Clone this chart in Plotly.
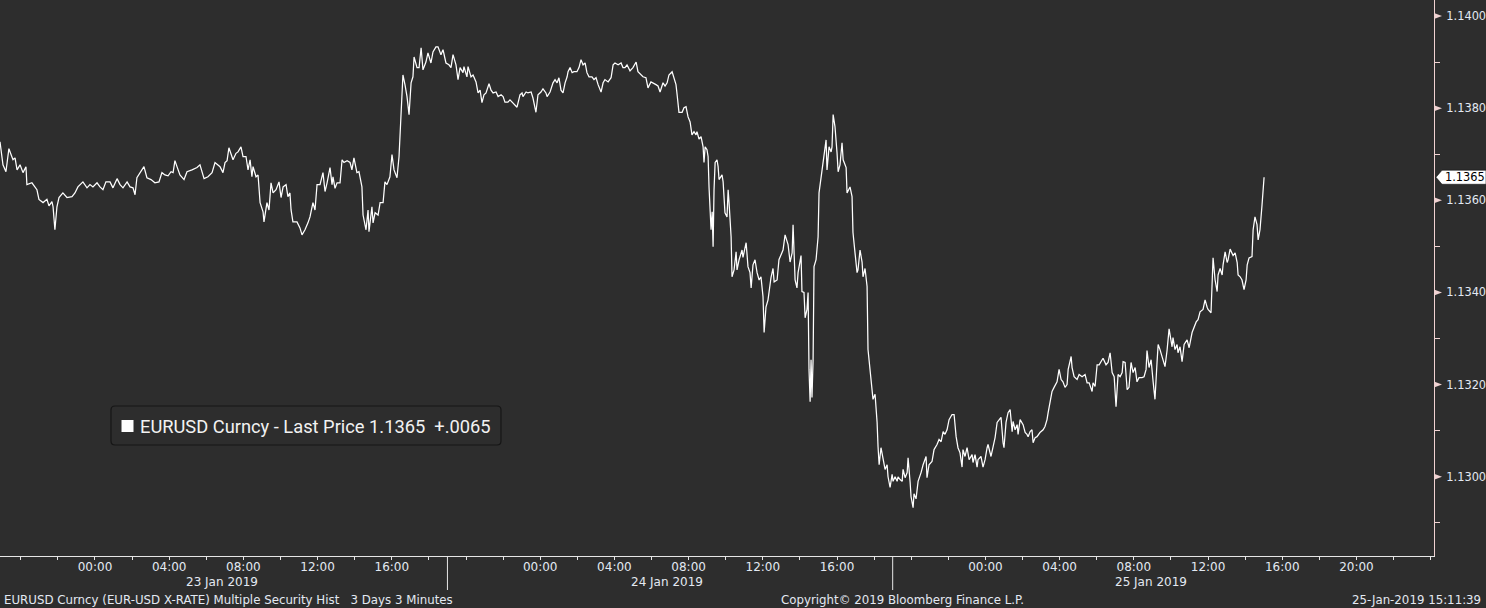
import pandas as pd
import plotly.graph_objects as go

# ---------------- data ----------------
# time = hours since 23 Jan 2019 00:00 (New York), value = EURUSD last price
hours_a = [-5.12, -4.96, -4.80, -4.64, -4.42, -4.31, -4.20, -4.04, -3.88, -3.72, -3.67, -3.40, -3.13, -3.02, -2.80,
           -2.59, -2.48, -2.32, -2.26, -2.16, -2.05, -1.94, -1.73, -1.51, -1.24, -1.08, -0.92, -0.65, -0.43, -0.27,
           -0.11, 0.11, 0.27, 0.43, 0.59, 0.81, 0.97, 1.19, 1.35, 1.51, 1.73, 1.89, 2.05, 2.16, 2.26, 2.43, 2.64,
           2.80, 3.02, 3.23, 3.45, 3.61, 3.77, 3.94, 4.10, 4.21, 4.31, 4.42, 4.58, 4.80, 4.96, 5.23, 5.50, 5.66,
           5.88, 6.09, 6.31, 6.47, 6.63, 6.74]
price_a = [1.13727, 1.13677, 1.13662, 1.13712, 1.13688, 1.13692, 1.13666, 1.13677, 1.13660, 1.13673, 1.13634,
           1.13638, 1.13623, 1.13602, 1.13595, 1.13602, 1.13588, 1.13597, 1.13586, 1.13536, 1.13586, 1.13606,
           1.13616, 1.13606, 1.13608, 1.13616, 1.13629, 1.13640, 1.13627, 1.13634, 1.13629, 1.13638, 1.13629,
           1.13623, 1.13640, 1.13640, 1.13627, 1.13647, 1.13634, 1.13627, 1.13640, 1.13629, 1.13627, 1.13612,
           1.13649, 1.13660, 1.13673, 1.13649, 1.13645, 1.13638, 1.13640, 1.13660, 1.13655, 1.13653, 1.13662,
           1.13660, 1.13686, 1.13673, 1.13655, 1.13645, 1.13662, 1.13666, 1.13671, 1.13677, 1.13647, 1.13651,
           1.13660, 1.13682, 1.13677, 1.13673]

hours_b = [6.90, 7.01, 7.12, 7.22, 7.44, 7.60, 7.71, 7.87, 7.98, 8.14, 8.25, 8.36, 8.46, 8.52, 8.68, 8.79, 8.90,
           9.06, 9.11, 9.27, 9.38, 9.49, 9.60, 9.76, 9.92, 10.03, 10.14, 10.30, 10.40, 10.51, 10.57, 10.67, 10.89,
           11.05, 11.16, 11.32, 11.48, 11.59, 11.75, 11.86, 11.97, 12.13, 12.29, 12.40, 12.51, 12.67, 12.78, 12.83,
           12.94, 13.05, 13.21, 13.32, 13.42, 13.59, 13.75, 13.85, 13.96, 14.12, 14.23, 14.39, 14.45, 14.61, 14.72,
           14.77, 14.93, 14.99, 15.10, 15.26, 15.37, 15.53, 15.63, 15.74, 15.90, 16.01, 16.12, 16.28, 16.39, 16.50,
           16.60, 16.71, 16.82, 16.93, 17.04, 17.14, 17.20, 17.36, 17.47, 17.58, 17.68, 17.84, 17.95, 18.11, 18.22,
           18.38, 18.49, 18.65, 18.76, 18.92, 19.08]
price_b = [1.13660, 1.13682, 1.13686, 1.13714, 1.13688, 1.13702, 1.13705, 1.13716, 1.13695, 1.13695, 1.13666,
           1.13688, 1.13651, 1.13673, 1.13651, 1.13655, 1.13595, 1.13575, 1.13553, 1.13595, 1.13579, 1.13638,
           1.13616, 1.13623, 1.13640, 1.13606, 1.13629, 1.13634, 1.13608, 1.13616, 1.13579, 1.13553, 1.13553,
           1.13540, 1.13525, 1.13536, 1.13551, 1.13564, 1.13595, 1.13579, 1.13634, 1.13634, 1.13660, 1.13619,
           1.13638, 1.13671, 1.13634, 1.13651, 1.13626, 1.13638, 1.13638, 1.13688, 1.13682, 1.13686, 1.13682,
           1.13666, 1.13692, 1.13660, 1.13662, 1.13629, 1.13568, 1.13536, 1.13579, 1.13532, 1.13586, 1.13551,
           1.13573, 1.13568, 1.13595, 1.13595, 1.13640, 1.13634, 1.13651, 1.13699, 1.13666, 1.13649, 1.13695,
           1.13790, 1.13872, 1.13851, 1.13825, 1.13786, 1.13855, 1.13868, 1.13911, 1.13888, 1.13888, 1.13931,
           1.13883, 1.13900, 1.13920, 1.13898, 1.13922, 1.13933, 1.13933, 1.13916, 1.13927, 1.13898, 1.13894]

hours_c = [19.19, 19.30, 19.46, 19.57, 19.68, 19.84, 19.89, 20.05, 20.11, 20.27, 20.38, 20.54, 20.65, 20.76, 20.86,
           20.97, 21.08, 21.24, 21.35, 21.46, 21.62, 21.73, 21.89, 22.00, 22.10, 22.26, 22.37, 22.53, 22.64, 22.75,
           22.91, 23.02, 23.07, 23.24, 23.34, 23.51, 23.61, 23.77, 23.88, 24.04, 24.15, 24.31, 24.37, 24.53, 24.69,
           24.80, 24.91, 25.01, 25.12, 25.23, 25.34, 25.45, 25.50, 25.61, 25.72, 25.82, 25.98, 26.09, 26.20, 26.31,
           26.42, 26.52, 26.63, 26.79, 26.90, 27.01, 27.12, 27.28, 27.39, 27.49, 27.66, 27.82, 27.93, 28.03, 28.20,
           28.36, 28.46, 28.57, 28.68, 28.84, 29.00, 29.17, 29.27, 29.44, 29.54, 29.70, 29.81, 29.97, 30.08, 30.24,
           30.35, 30.46, 30.62, 30.73, 30.84, 30.94, 31.11, 31.21, 31.32, 31.38, 31.48, 31.65, 31.75, 31.86, 31.97,
           32.08]
price_c = [1.13888, 1.13916, 1.13894, 1.13862, 1.13888, 1.13877, 1.13890, 1.13868, 1.13890, 1.13868, 1.13872,
           1.13857, 1.13833, 1.13839, 1.13812, 1.13829, 1.13833, 1.13853, 1.13839, 1.13833, 1.13835, 1.13825,
           1.13829, 1.13825, 1.13813, 1.13813, 1.13818, 1.13812, 1.13807, 1.13802, 1.13829, 1.13833, 1.13825,
           1.13835, 1.13833, 1.13835, 1.13822, 1.13791, 1.13829, 1.13835, 1.13842, 1.13833, 1.13825, 1.13835,
           1.13855, 1.13862, 1.13855, 1.13866, 1.13839, 1.13833, 1.13855, 1.13868, 1.13879, 1.13888, 1.13877,
           1.13879, 1.13879, 1.13888, 1.13905, 1.13894, 1.13898, 1.13877, 1.13868, 1.13868, 1.13862, 1.13866,
           1.13851, 1.13835, 1.13855, 1.13862, 1.13857, 1.13866, 1.13894, 1.13898, 1.13894, 1.13898, 1.13888,
           1.13888, 1.13894, 1.13881, 1.13888, 1.13900, 1.13879, 1.13872, 1.13868, 1.13866, 1.13844, 1.13857,
           1.13855, 1.13851, 1.13848, 1.13835, 1.13855, 1.13848, 1.13855, 1.13872, 1.13879, 1.13866, 1.13851,
           1.13829, 1.13791, 1.13791, 1.13801, 1.13803, 1.13781, 1.13770]

hours_d = [32.18, 32.29, 32.40, 32.45, 32.56, 32.67, 32.78, 32.83, 32.89, 32.99, 33.05, 33.10, 33.21, 33.27, 33.32,
           33.37, 33.43, 33.53, 33.59, 33.64, 33.80, 33.86, 33.96, 34.07, 34.13, 34.18, 34.29, 34.34, 34.45, 34.56,
           34.61, 34.72, 34.88, 34.93, 35.10, 35.20, 35.31, 35.37, 35.47, 35.58, 35.69, 35.80, 35.90, 36.01, 36.07,
           36.17, 36.28, 36.44, 36.55, 36.61, 36.77, 36.87, 36.98, 37.09, 37.20, 37.31, 37.36, 37.47, 37.58, 37.63,
           37.74, 37.84, 37.90, 38.06, 38.11, 38.22, 38.28, 38.38, 38.44, 38.49, 38.55, 38.60, 38.65, 38.71, 38.76,
           38.87, 38.98, 39.03, 39.14, 39.25, 39.30, 39.41, 39.46, 39.57, 39.68, 39.73, 39.79, 39.89, 40.00, 40.06,
           40.16, 40.27, 40.33, 40.49, 40.54, 40.70, 40.81, 40.86, 40.97, 41.08, 41.13, 41.24, 41.35, 41.40, 41.51,
           41.62, 41.67, 41.83, 41.94, 42.05, 42.16]
price_d = [1.13742, 1.13749, 1.13742, 1.13749, 1.13733, 1.13738, 1.13716, 1.13682, 1.13716, 1.13710, 1.13695,
           1.13629, 1.13536, 1.13575, 1.13499, 1.13623, 1.13682, 1.13688, 1.13673, 1.13645, 1.13655, 1.13640,
           1.13573, 1.13564, 1.13623, 1.13595, 1.13521, 1.13434, 1.13449, 1.13488, 1.13449, 1.13471, 1.13492,
           1.13476, 1.13508, 1.13456, 1.13443, 1.13410, 1.13460, 1.13471, 1.13443, 1.13427, 1.13434, 1.13391,
           1.13313, 1.13368, 1.13384, 1.13432, 1.13452, 1.13423, 1.13427, 1.13471, 1.13480, 1.13492, 1.13525,
           1.13508, 1.13504, 1.13466, 1.13486, 1.13547, 1.13427, 1.13410, 1.13443, 1.13480, 1.13402, 1.13400,
           1.13345, 1.13363, 1.13400, 1.13233, 1.13163, 1.13254, 1.13172, 1.13254, 1.13456, 1.13471, 1.13521,
           1.13616, 1.13651, 1.13682, 1.13703, 1.13731, 1.13666, 1.13716, 1.13705, 1.13716, 1.13786, 1.13760,
           1.13703, 1.13662, 1.13677, 1.13725, 1.13688, 1.13671, 1.13616, 1.13629, 1.13608, 1.13530, 1.13486,
           1.13443, 1.13449, 1.13492, 1.13466, 1.13434, 1.13452, 1.13413, 1.13276, 1.13217, 1.13168, 1.13179,
           1.13118]

hours_e = [42.21, 42.27, 42.37, 42.48, 42.59, 42.70, 42.75, 42.86, 42.97, 43.02, 43.13, 43.24, 43.29, 43.40, 43.51,
           43.56, 43.67, 43.78, 43.83, 43.94, 43.99, 44.10, 44.15, 44.26, 44.37, 44.53, 44.64, 44.80, 44.85, 44.96,
           45.12, 45.23, 45.39, 45.50, 45.61, 45.72, 45.82, 45.93, 46.04, 46.20, 46.31, 46.42, 46.52, 46.63, 46.74,
           46.79, 46.90, 47.01, 47.12, 47.28, 47.33, 47.44, 47.55, 47.60, 47.76, 47.87, 47.98, 48.09, 48.14, 48.30,
           48.41, 48.52, 48.63, 48.73, 48.84, 48.95, 49.00, 49.11, 49.22, 49.33, 49.44, 49.49, 49.60, 49.71, 49.76,
           49.87, 49.98, 50.03, 50.14, 50.24, 50.30, 50.41, 50.51, 50.57, 50.68, 50.78, 50.94, 51.11, 51.21, 51.32,
           51.38, 51.48, 51.59, 51.70, 51.86, 51.97]
price_e = [1.13066, 1.13026, 1.13063, 1.13037, 1.13016, 1.13026, 1.13000, 1.12977, 1.13005, 1.12990, 1.13000,
           1.12990, 1.13000, 1.12994, 1.12990, 1.13016, 1.12998, 1.13009, 1.13041, 1.12988, 1.12957, 1.12933,
           1.12963, 1.12952, 1.12990, 1.13009, 1.13026, 1.13044, 1.12998, 1.13026, 1.13033, 1.13059, 1.13070,
           1.13081, 1.13076, 1.13098, 1.13092, 1.13102, 1.13124, 1.13135, 1.13135, 1.13087, 1.13063, 1.13052,
           1.13021, 1.13059, 1.13044, 1.13063, 1.13037, 1.13048, 1.13031, 1.13048, 1.13021, 1.13037, 1.13044,
           1.13021, 1.13037, 1.13063, 1.13070, 1.13044, 1.13063, 1.13085, 1.13118, 1.13124, 1.13129, 1.13074,
           1.13063, 1.13118, 1.13139, 1.13146, 1.13098, 1.13120, 1.13102, 1.13113, 1.13092, 1.13124, 1.13118,
           1.13113, 1.13096, 1.13092, 1.13087, 1.13098, 1.13102, 1.13074, 1.13085, 1.13087, 1.13096, 1.13102,
           1.13109, 1.13124, 1.13139, 1.13161, 1.13185, 1.13194, 1.13206, 1.13233]

hours_f = [52.08, 52.18, 52.29, 52.40, 52.46, 52.62, 52.67, 52.78, 52.94, 53.05, 53.21, 53.37, 53.48, 53.59, 53.75,
           53.80, 53.91, 54.02, 54.13, 54.29, 54.34, 54.50, 54.61, 54.72, 54.83, 54.94, 55.04, 55.15, 55.26, 55.37,
           55.42, 55.53, 55.64, 55.74, 55.85, 55.96, 56.07, 56.17, 56.28, 56.44, 56.55, 56.66, 56.71, 56.82, 56.93,
           57.04, 57.14, 57.25, 57.31, 57.41, 57.58, 57.68, 57.79, 57.90, 58.06, 58.11, 58.22, 58.33, 58.38, 58.49,
           58.60, 58.71, 58.87, 58.98, 59.14, 59.25, 59.36, 59.46, 59.57, 59.73, 59.84, 59.95, 60.00, 60.16, 60.27,
           60.38, 60.49, 60.54, 60.65, 60.76, 60.81, 60.92, 61.03, 61.08, 61.19, 61.35, 61.46, 61.57, 61.62, 61.73,
           61.83, 61.94, 62.05, 62.11, 62.21, 62.37, 62.43, 62.53, 62.64, 62.70, 62.80, 62.91, 63.02]
price_f = [1.13211, 1.13206, 1.13194, 1.13200, 1.13233, 1.13261, 1.13237, 1.13217, 1.13211, 1.13222, 1.13217,
           1.13222, 1.13204, 1.13204, 1.13185, 1.13204, 1.13196, 1.13243, 1.13243, 1.13254, 1.13257, 1.13243,
           1.13248, 1.13269, 1.13226, 1.13217, 1.13152, 1.13222, 1.13217, 1.13226, 1.13250, 1.13248, 1.13189,
           1.13194, 1.13248, 1.13226, 1.13237, 1.13206, 1.13215, 1.13215, 1.13217, 1.13233, 1.13274, 1.13237,
           1.13254, 1.13206, 1.13168, 1.13248, 1.13287, 1.13276, 1.13254, 1.13239, 1.13274, 1.13321, 1.13282,
           1.13302, 1.13276, 1.13287, 1.13269, 1.13282, 1.13250, 1.13287, 1.13297, 1.13280, 1.13313, 1.13326,
           1.13336, 1.13341, 1.13358, 1.13363, 1.13384, 1.13368, 1.13363, 1.13356, 1.13475, 1.13427, 1.13402,
           1.13438, 1.13452, 1.13438, 1.13460, 1.13488, 1.13465, 1.13471, 1.13494, 1.13480, 1.13486, 1.13465,
           1.13438, 1.13434, 1.13427, 1.13406, 1.13427, 1.13460, 1.13475, 1.13478, 1.13536, 1.13564, 1.13547,
           1.13514, 1.13536, 1.13590, 1.13650]

prev_close = 1.1300

# axis ticks / labels
time_tick_vals = ["2019-01-23 00:00", "2019-01-23 04:00", "2019-01-23 08:00", "2019-01-23 12:00", "2019-01-23 16:00",
                  "2019-01-24 00:00", "2019-01-24 04:00", "2019-01-24 08:00", "2019-01-24 12:00", "2019-01-24 16:00",
                  "2019-01-25 00:00", "2019-01-25 04:00", "2019-01-25 08:00", "2019-01-25 12:00", "2019-01-25 16:00",
                  "2019-01-25 20:00"]
time_tick_text = ["00:00", "04:00", "08:00", "12:00", "16:00",
                  "00:00", "04:00", "08:00", "12:00", "16:00",
                  "00:00", "04:00", "08:00", "12:00", "16:00", "20:00"]
day_labels = ["23 Jan 2019", "24 Jan 2019", "25 Jan 2019"]
day_label_pos = ["2019-01-23 06:51", "2019-01-24 06:50", "2019-01-25 08:56"]
day_separators = ["2019-01-23 19:00", "2019-01-24 19:00"]
y_tick_vals = [1.1300, 1.1320, 1.1340, 1.1360, 1.1380, 1.1400]
y_tick_text = ["1.1300", "1.1320", "1.1340", "1.1360", "1.1380", "1.1400"]

# ---------------- build ----------------
hours = hours_a + hours_b + hours_c + hours_d + hours_e + hours_f
prices = price_a + price_b + price_c + price_d + price_e + price_f
for hh, pp, nm in [(hours_a, price_a, "a"), (hours_b, price_b, "b"), (hours_c, price_c, "c"),
                   (hours_d, price_d, "d"), (hours_e, price_e, "e"), (hours_f, price_f, "f")]:
    assert len(hh) == len(pp), (nm, len(hh), len(pp))

base = pd.Timestamp("2019-01-23 00:00")
times = [base + pd.Timedelta(hours=h) for h in hours]
last = prices[-1]
change = last - prev_close

BG = "#2d2d2d"
TXT = "#e3e9f2"
PINK = "#f0d2d2"
AX = "#e6e6e6"
W, H = 1486, 608
PW, PH = 1434, 556  # plot area in pixels

fig = go.Figure()
fig.add_trace(go.Scatter(x=times, y=prices, mode="lines",
                         line=dict(color="#ffffff", width=1.25),
                         showlegend=False, hoverinfo="skip"))

fig.update_layout(width=W, height=H, margin=dict(l=0, r=W - PW, t=0, b=H - PH),
                  paper_bgcolor=BG, plot_bgcolor=BG, showlegend=False)

fig.update_xaxes(type="date",
                 range=[base + pd.Timedelta(hours=-5.12), base + pd.Timedelta(hours=72.18)],
                 showgrid=False, zeroline=False, showline=True, linecolor=AX, linewidth=1,
                 tickmode="array", tickvals=time_tick_vals, ticktext=time_tick_text,
                 ticks="outside", ticklen=3, tickwidth=1, tickcolor=AX, ticklabelstandoff=-3,
                 tickfont=dict(family="DejaVu Sans", size=12, color=TXT),
                 minor=dict(tickmode="linear", tick0="2019-01-23 00:00", dtick=2 * 3600 * 1000,
                            ticks="outside", ticklen=3, tickcolor=AX, showgrid=False))

fig.update_yaxes(side="right", range=[1.12828, 1.140347],
                 showgrid=False, zeroline=False, showline=True, linecolor=PINK, linewidth=1,
                 tickmode="array", tickvals=y_tick_vals, ticktext=y_tick_text,
                 ticks="", ticklabelstandoff=9,
                 tickfont=dict(family="DejaVu Sans", size=11.4, color=TXT),
                 minor=dict(tickmode="linear", tick0=1.129, dtick=0.002,
                            ticks="outside", ticklen=5, tickcolor=PINK, showgrid=False))

shapes = []
for v in y_tick_vals:
    shapes.append(dict(type="path", xref="paper", yref="y", xsizemode="pixel", ysizemode="pixel",
                       xanchor=1, yanchor=v, path="M 0,-3 L 8,0 L 0,3 Z",
                       fillcolor=PINK, line=dict(width=0)))
# last price tag
shapes.append(dict(type="path", xref="paper", yref="y", xsizemode="pixel", ysizemode="pixel",
                   xanchor=1, yanchor=last, path="M 2,0 L 8,-7 L 52,-7 L 52,7 L 8,7 Z",
                   fillcolor="#ffffff", line=dict(color="#000000", width=0.5)))
# day separators
for s in day_separators:
    shapes.append(dict(type="line", xref="x", yref="paper", x0=s, x1=s, y0=0, y1=-34 / PH,
                       line=dict(color=AX, width=1)))
# legend box (rounded)
lx, ly = 306 / PW, 1 - 425.5 / PH
shapes.append(dict(type="path", xref="paper", yref="paper", xsizemode="pixel", ysizemode="pixel",
                   xanchor=lx, yanchor=ly,
                   path=("M -191,-19.5 L 191,-19.5 Q 195,-19.5 195,-15.5 L 195,15.5 Q 195,19.5 191,19.5 "
                         "L -191,19.5 Q -195,19.5 -195,15.5 L -195,-15.5 Q -195,-19.5 -191,-19.5 Z"),
                   fillcolor=BG, line=dict(color="#161616", width=1.2)))
shapes.append(dict(type="rect", xref="paper", yref="paper", xsizemode="pixel", ysizemode="pixel",
                   xanchor=127.5 / PW, yanchor=1 - 426 / PH, x0=-6, x1=6, y0=-6, y1=6,
                   fillcolor="#ffffff", line=dict(width=0)))
fig.update_layout(shapes=shapes)

ann = []
ann.append(dict(x=1, xref="paper", xanchor="left", xshift=9, y=last, yref="y", yanchor="middle",
                text=f"{last:.4f}", showarrow=False,
                font=dict(family="DejaVu Sans", size=11.4, color="#000000")))
for t, p in zip(day_labels, day_label_pos):
    ann.append(dict(x=p, xref="x", y=1 - 582 / PH, yref="paper", yanchor="middle", xanchor="center",
                    text=t, showarrow=False, font=dict(family="DejaVu Sans", size=12, color=TXT)))
chg = f"{change:+.4f}".replace("0.", ".", 1)
ann.append(dict(x=138 / PW, xref="paper", xanchor="left", y=1 - 426 / PH, yref="paper", yanchor="middle",
                text=f"EURUSD Curncy - Last Price {last:.4f}\u00a0\u00a0{chg}", showarrow=False,
                font=dict(family="Roboto", size=18.3, color="#f2f2f2")))
fy = 1 - 600 / PH
ann.append(dict(x=2 / PW, xref="paper", xanchor="left", y=fy, yref="paper", yanchor="middle",
                text="EURUSD Curncy (EUR-USD X-RATE) Multiple Security Hist\u00a0\u00a0\u00a03 Days 3 Minutes",
                showarrow=False, font=dict(family="DejaVu Sans", size=11.8, color=TXT)))
ann.append(dict(x=903 / PW, xref="paper", xanchor="center", y=fy, yref="paper", yanchor="middle",
                text="Copyright\u00a9 2019 Bloomberg Finance L.P.",
                showarrow=False, font=dict(family="DejaVu Sans", size=11.8, color=TXT)))
ann.append(dict(x=1483 / PW, xref="paper", xanchor="right", y=fy, yref="paper", yanchor="middle",
                text="25-Jan-2019 15:11:39",
                showarrow=False, font=dict(family="DejaVu Sans", size=11.8, color=TXT)))
fig.update_layout(annotations=ann)

fig.write_html("out.html", config={"displayModeBar": False},
               post_script="document.body.style.margin='0';document.body.style.background='#2d2d2d';")
